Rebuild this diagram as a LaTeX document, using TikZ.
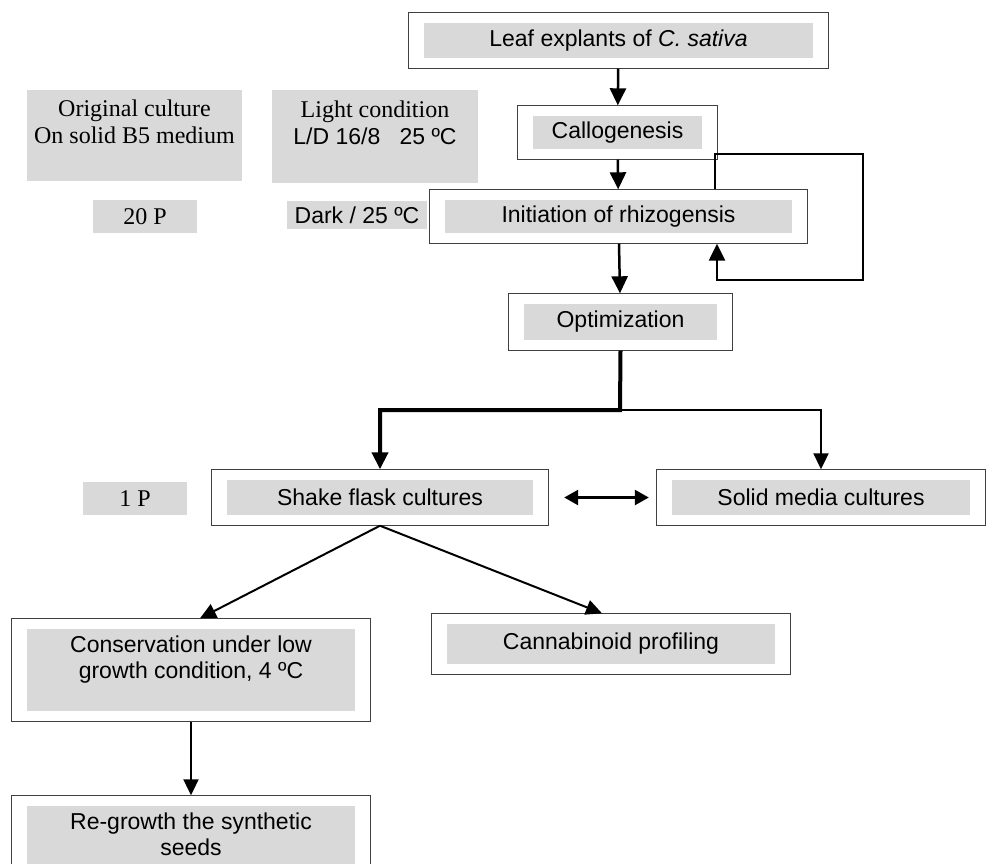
\documentclass[tikz,border=0pt]{standalone}
\usepackage{fontspec}
\setmainfont{Liberation Serif}
\setsansfont{Liberation Sans}
\usetikzlibrary{arrows.meta,fit}

\newcommand{\sfsize}{\sffamily\fontsize{23}{26}\selectfont}
\newcommand{\rmsize}{\rmfamily\fontsize{24}{27}\selectfont}

\begin{document}
\begin{tikzpicture}[x=1pt, y=-1pt,
    gbox/.style = {fill=black!15, inner sep=0pt, align=center, font=\sfsize},
    note/.style = {gbox, font=\rmsize},
    frame/.style = {draw=black!75, line width=1pt, inner xsep=15.5pt, inner ysep=10pt},
    arr/.style = {-{Triangle[length=17pt,width=16pt]}, line width=2.5pt},
    thinarr/.style = {-{Triangle[length=16pt,width=15pt]}, line width=2pt}]

    \clip (0,0) rectangle (990,863);

    % grey labels on the left
    \node[note, minimum width=215pt, minimum height=91pt] (orig) at (134.5,135.5) {Original culture\\On solid B5 medium\\\mbox{}};
    \node[note, minimum width=206pt, minimum height=93pt] (light) at (375,136.5) {Light condition\\{\sfsize L/D 16/8\ \ \ 25 ºC}\\\mbox{}};
    \node[note, minimum width=104pt, minimum height=33pt] (p20) at (145,216.5) {20 P};
    \node[gbox, minimum width=140pt, minimum height=28pt] (dark) at (357,215) {Dark / 25 ºC};
    \node[note, minimum width=104pt, minimum height=33pt] (p1) at (135,498.5) {1 P};

    % steps
    \node[gbox, minimum width=389pt, minimum height=35pt] (leaf) at (618.5,40.5) {Leaf explants of \textit{C. sativa}};
    \node[gbox, minimum width=169pt, minimum height=33pt] (callo) at (617.5,132.5) {Callogenesis};
    \node[gbox, minimum width=347pt, minimum height=33pt] (init) at (618.5,216.5) {Initiation of rhizogensis};
    \node[gbox, minimum width=193pt, minimum height=36pt] (opt) at (620.5,322) {Optimization};
    \node[gbox, minimum width=306pt, minimum height=35pt] (shake) at (380,497.5) {Shake flask cultures};
    \node[gbox, minimum width=298pt, minimum height=35pt] (solid) at (821,497.5) {Solid media cultures};
    \node[gbox, minimum width=328pt, minimum height=82pt] (cons) at (191,670) {Conservation under low\\growth condition, 4 ºC\\\mbox{}};
    \node[gbox, minimum width=328pt, minimum height=40pt] (cann) at (611,644) {Cannabinoid profiling};
    \node[gbox, minimum width=328pt, minimum height=82pt] (regrow) at (191,847) {Re-growth the synthetic\\seeds\\\mbox{}};

    % frames
    \node[frame, fit=(leaf)] (leaff) {};
    \node[frame, fit=(callo)] (callof) {};
    \node[frame, fit=(init)] (initf) {};
    \node[frame, fit=(opt)] (optf) {};
    \node[frame, fit=(shake)] (shakef) {};
    \node[frame, fit=(solid)] (solidf) {};
    \node[frame, fit=(cons)] (consf) {};
    \node[frame, fit=(cann)] (cannf) {};
    \node[frame, fit=(regrow)] (regrowf) {};

    \coordinate (lt) at (715,154);
    \coordinate (lr) at (863,280);
    \coordinate (lb) at (717,280);
    \coordinate (bus) at (620,410);

    \draw[arr] (leaff) -- (callof);
    \draw[arr] (callof) -- (initf);
    \draw[arr] (initf) -- (optf);
    \draw[arr] (initf.north -| lt) -- (lt) -| (lr) -- (lb) -- (initf.south -| lb);
    \draw[arr, line width=4pt] (optf.south) -- (bus) -| (shakef.north);
    \draw[thinarr] (bus) -| (solidf.north);
    \draw[{Triangle[length=14pt,width=15pt]}-{Triangle[length=14pt,width=15pt]}, line width=2.5pt, shorten <=15pt, shorten >=7pt] (shakef.east) -- (solidf.west);
    \draw[thinarr] (shakef.south) -- ([xshift=9pt]consf.north);
    \draw[thinarr] (shakef.south) -- ([xshift=-9pt]cannf.north);
    \draw[thinarr] (consf) -- (regrowf);

\end{tikzpicture}
\end{document}
